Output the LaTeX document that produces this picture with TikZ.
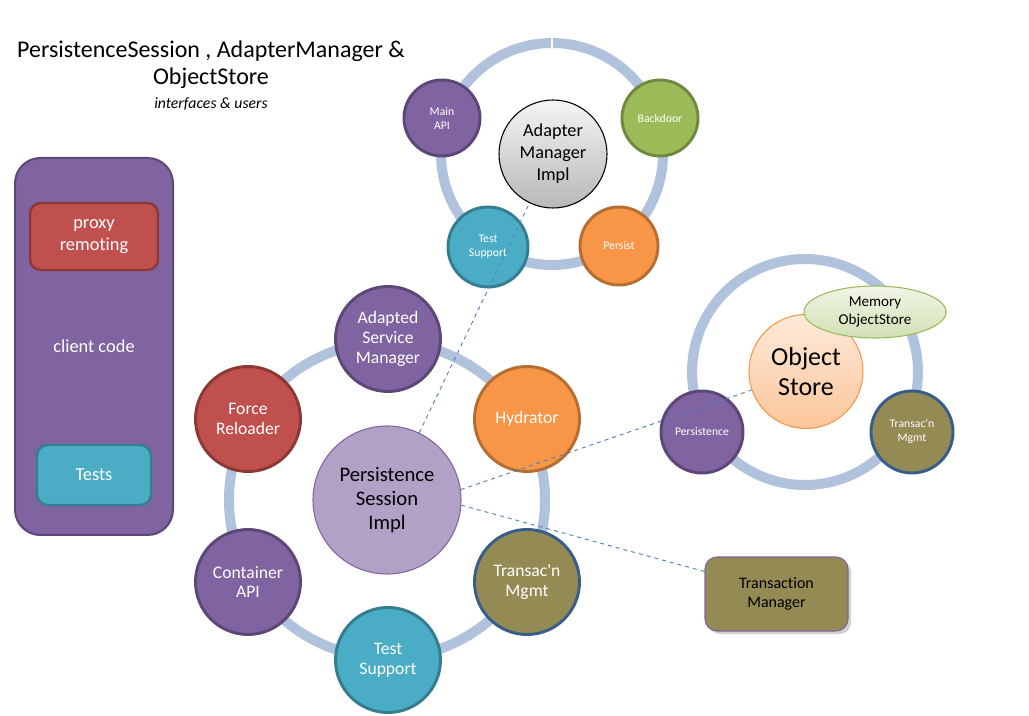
\documentclass[tikz,border=0pt]{standalone}
\usepackage{fontspec}
\setmainfont{Carlito}[Ligatures=NoCommon]
\usetikzlibrary{shadows,calc,shapes.geometric}
\definecolor{purp}{HTML}{8064A2}
\definecolor{purpB}{HTML}{5C4776}
\definecolor{redf}{HTML}{C0504D}
\definecolor{redB}{HTML}{8C3836}
\definecolor{orf}{HTML}{F79646}
\definecolor{orB}{HTML}{B66D31}
\definecolor{grf}{HTML}{9BBB59}
\definecolor{grB}{HTML}{71893F}
\definecolor{tealf}{HTML}{4BACC6}
\definecolor{tealB}{HTML}{357D91}
\definecolor{olf}{HTML}{948A54}
\definecolor{olB}{HTML}{385D8A}
\definecolor{ringc}{HTML}{B1C2DD}
\definecolor{psif}{HTML}{B2A1C7}
\definecolor{dashc}{HTML}{4F81BD}
\tikzset{
  diam/.style={minimum size=#1*0.75pt},
  wh/.style 2 args={minimum width=#1*0.75pt, minimum height=#2*0.75pt},
  ring/.style={draw=ringc, line width=7.5pt},
  circ/.style 2 args={circle, draw=#2, fill=#1, line width=2.2pt, text=white, align=center, inner sep=0pt},
  small/.style={font=\fontsize{8.8}{10.5}\selectfont},
  mid/.style={font=\fontsize{13.2}{14.8}\selectfont},
  boxtext/.style={text=white, align=center, font=\fontsize{13.8}{16.5}\selectfont},
  dashline/.style={draw=dashc, dashed, line width=0.7pt},
}
\begin{document}
\begin{tikzpicture}[x=0.75pt,y=-0.75pt]
\useasboundingbox[fill=white] (0,0) rectangle (1029,716);

% title
\node[font=\fontsize{18}{20.5}\selectfont, align=center] (title) at (211,65) {PersistenceSession , AdapterManager \&\\ObjectStore};
\node[font=\itshape\fontsize{11.8}{13}\selectfont] (sub) at (211,104) {interfaces \& users};

% client box
\node[draw=purpB, fill=purp, line width=1.5pt, rounded corners=19pt, wh={158}{377}, boxtext] (client) at (94,346.5) {client code};
\node[draw=redB, fill=redf, line width=1.8pt, rounded corners=8pt, wh={128}{67}, boxtext] (proxy) at (94,236.5) {proxy\\remoting};
\node[draw=tealB, fill=tealf, line width=1.8pt, rounded corners=8pt, wh={114}{60}, boxtext] (tests) at (94,475) {Tests};

% top ring
\draw[ring] (552,154) circle[radius=111];
\draw[white, line width=0.8pt] (552,36) -- (552,48);
\node[circ={purp}{purpB}, diam=76, small] (mainapi) at (442,118) {Main\\API};
\node[circ={grf}{grB}, diam=76, small] (backdoor) at (660,118) {Backdoor};
\node[circ={tealf}{tealB}, diam=80, small] (tsTop) at (488,247) {Test\\Support};
\node[circ={orf}{orB}, diam=78, small] (persist) at (619,246) {Persist};
\node[circle, draw=black, line width=0.8pt, top color=white!96!black, bottom color=black!28, diam=108, align=center, font=\fontsize{13.7}{16.5}\selectfont] (ami) at (553,154) {Adapter\\Manager\\Impl};

% central ring
\draw[ring] (387,500) circle[radius=158];
\node[circ={purp}{purpB}, diam=105, mid] (asm) at (388,339) {Adapted\\Service\\Manager};
\node[circ={orf}{orB}, diam=105, mid] (hyd) at (527,419) {Hydrator};
\node[circ={olf}{olB}, diam=105, mid] (tm1) at (527,582) {Transac\textquotesingle n\\Mgmt};
\node[circ={tealf}{tealB}, diam=105, mid] (ts1) at (388,660) {Test\\Support};
\node[circ={purp}{purpB}, diam=105, mid] (capi) at (248,582) {Container\\API};
\node[circ={redf}{redB}, diam=105, mid] (force) at (248,419) {Force\\Reloader};
\node[circle, draw=purp, fill=psif, line width=0.8pt, diam=148, align=center, font=\fontsize{15.5}{17.8}\selectfont] (psi) at (387,500) {Persistence\\Session\\Impl};

% object store ring
\draw[ring] (805,372) circle[radius=113];
\node[circ={purp}{purpB}, diam=82, small] (pers) at (702,432) {Persistence};
\node[circ={olf}{olB}, diam=82, small] (tm2) at (912,432) {Transac\textquotesingle n\\Mgmt};
\node[circle, draw=orf, line width=0.8pt, top color=orf!20, bottom color=orf!55, diam=114, align=center, font=\fontsize{19.5}{22}\selectfont] (os) at (806,371.5) {Object\\Store};
\node[ellipse, draw=grf, line width=0.8pt, top color=grf!15, bottom color=grf!45, wh={142}{52}, inner sep=0pt, align=center, font=\fontsize{11.3}{13}\selectfont] (mem) at (875,312) {Memory\\ObjectStore};

% transaction manager
\node[draw=purp, fill=olf, line width=0.8pt, rounded corners=9pt, wh={143}{74}, drop shadow={opacity=0.35}, align=center, font=\fontsize{12}{14.5}\selectfont] (tmgr) at (776.5,594) {Transaction\\Manager};

% dashed connectors
\draw[dashline] (psi) -- (ami);
\draw[dashline] (psi.8) -- (os);
\draw[dashline] (psi.-4) -- ($(tmgr.north west)!0.2!(tmgr.south west)$);
\end{tikzpicture}
\end{document}
